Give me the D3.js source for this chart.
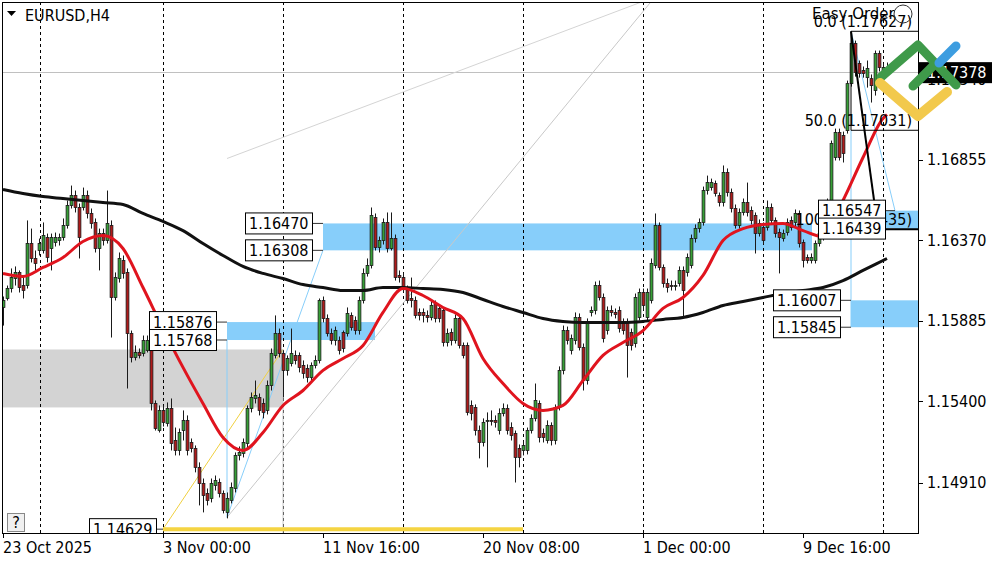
<!DOCTYPE html>
<html>
<head>
<meta charset="utf-8">
<script src="https://cdn.jsdelivr.net/npm/d3@7"></script>
<style>
  body { margin: 0; background: #fff; }
  text { font-family: "DejaVu Sans Condensed", "DejaVu Sans", sans-serif; font-stretch: condensed; font-size: 16px; fill: #000; }
</style>
</head>
<body>
<div id="chart"></div>
<script>
// EURUSD H4, bar index 0 = 23 Oct 2025 08:00
var dateBars = [0, 40, 80, 120, 160, 200];
var dateLabels = ["23 Oct 2025", "3 Nov 00:00", "11 Nov 16:00", "20 Nov 08:00", "1 Dec 00:00", "9 Dec 16:00"];
var priceTicks = [1.17340, 1.16855, 1.16370, 1.15885, 1.15400, 1.14910];
var gridBars = [9.25, 40, 70, 100, 130, 160, 190, 220];
var lastPrice = 1.17378;

// [open, high, low, close]
var ohlc = [
[1.15964,1.16030,1.15855,1.16006],[1.16018,1.16096,1.16006,1.16078],[1.16078,1.16199,1.16054,1.16144],[1.16138,1.16211,1.16096,1.16175],
[1.16175,1.16187,1.16054,1.16084],[1.16096,1.16150,1.16018,1.16066],[1.16096,1.16488,1.16078,1.16349],[1.16349,1.16439,1.16235,1.16259],
[1.16259,1.16307,1.16187,1.16229],[1.16307,1.16379,1.16277,1.16349],[1.16307,1.16476,1.16289,1.16397],[1.16385,1.16409,1.16235,1.16265],
[1.16319,1.16409,1.16187,1.16385],[1.16355,1.16415,1.16331,1.16385],[1.16367,1.16409,1.16337,1.16385],[1.16385,1.16500,1.16367,1.16457],
[1.16457,1.16608,1.16439,1.16578],[1.16578,1.16698,1.16560,1.16638],[1.16638,1.16668,1.16536,1.16566],[1.16566,1.16590,1.16259,1.16385],
[1.16566,1.16686,1.16548,1.16638],[1.16638,1.16668,1.16500,1.16530],[1.16530,1.16560,1.16439,1.16470],[1.16476,1.16500,1.16295,1.16319],
[1.16319,1.16439,1.16187,1.16409],[1.16409,1.16439,1.16337,1.16367],[1.16367,1.16668,1.16349,1.16470],[1.16457,1.16488,1.15783,1.16024],
[1.16024,1.16175,1.16006,1.16144],[1.16138,1.16295,1.16114,1.16259],[1.16247,1.16277,1.16138,1.16169],[1.16175,1.16199,1.15476,1.15807],
[1.15807,1.15825,1.15633,1.15663],[1.15663,1.15735,1.15645,1.15693],[1.15693,1.15717,1.15657,1.15675],[1.15687,1.15795,1.15669,1.15765],
[1.15705,1.15795,1.15693,1.15765],[1.15765,1.15777,1.15344,1.15386],[1.15386,1.15404,1.15223,1.15235],[1.15223,1.15374,1.15211,1.15344],
[1.15344,1.15374,1.15247,1.15272],[1.15266,1.15392,1.15247,1.15356],[1.15356,1.15416,1.15103,1.15145],[1.15163,1.15241,1.15073,1.15103],
[1.15103,1.15235,1.15073,1.15211],[1.15223,1.15344,1.15163,1.15284],[1.15284,1.15314,1.15073,1.15103],[1.15151,1.15175,1.15091,1.15115],
[1.15115,1.15133,1.14971,1.15001],[1.15001,1.15031,1.14772,1.14904],[1.14904,1.14934,1.14730,1.14832],[1.14844,1.14874,1.14772,1.14802],
[1.14814,1.14934,1.14790,1.14904],[1.14892,1.14952,1.14862,1.14922],[1.14910,1.14934,1.14820,1.14844],[1.14844,1.14862,1.14724,1.14742],
[1.14730,1.14850,1.14694,1.14814],[1.14802,1.14910,1.14784,1.14880],[1.14874,1.15091,1.14850,1.15073],[1.15073,1.15127,1.15043,1.15091],
[1.15085,1.15175,1.15061,1.15151],[1.15145,1.15374,1.15121,1.15356],[1.15356,1.15452,1.15332,1.15422],[1.15416,1.15524,1.15386,1.15434],
[1.15422,1.15446,1.15314,1.15344],[1.15386,1.15416,1.15296,1.15332],[1.15344,1.15524,1.15320,1.15494],[1.15494,1.15717,1.15464,1.15687],
[1.15675,1.15916,1.15657,1.15807],[1.15807,1.15837,1.15663,1.15687],[1.15687,1.15705,1.15422,1.15585],[1.15585,1.15675,1.15554,1.15657],
[1.15627,1.15837,1.15609,1.15687],[1.15675,1.15705,1.15621,1.15645],[1.15675,1.15693,1.15573,1.15603],[1.15615,1.15645,1.15536,1.15567],
[1.15597,1.15621,1.15512,1.15542],[1.15542,1.15633,1.15524,1.15615],[1.15615,1.15675,1.15597,1.15645],[1.15645,1.16018,1.15627,1.16006],
[1.16006,1.16030,1.15874,1.15898],[1.15898,1.15922,1.15789,1.15807],[1.15807,1.15837,1.15741,1.15765],[1.15765,1.15849,1.15735,1.15825],
[1.15765,1.15789,1.15681,1.15705],[1.15813,1.15825,1.15693,1.15717],[1.15807,1.15964,1.15789,1.15928],[1.15916,1.15934,1.15825,1.15843],
[1.15886,1.15910,1.15801,1.15825],[1.15825,1.16030,1.15801,1.16006],[1.16006,1.16199,1.15988,1.16169],[1.16169,1.16259,1.16150,1.16217],
[1.16217,1.16566,1.16199,1.16518],[1.16506,1.16530,1.16307,1.16325],[1.16325,1.16391,1.16295,1.16367],[1.16367,1.16500,1.16343,1.16476],
[1.16476,1.16536,1.16295,1.16319],[1.16319,1.16536,1.16307,1.16379],[1.16379,1.16403,1.16126,1.16144],[1.16156,1.16187,1.16114,1.16144],
[1.16144,1.16175,1.16054,1.16078],[1.16066,1.16096,1.15988,1.16006],[1.16018,1.16144,1.15964,1.16006],[1.16006,1.16030,1.15898,1.15916],
[1.15934,1.15958,1.15886,1.15916],[1.15934,1.15958,1.15874,1.15916],[1.15916,1.15946,1.15874,1.15904],[1.15904,1.16006,1.15886,1.15976],
[1.15988,1.16006,1.15874,1.15898],[1.15958,1.15982,1.15874,1.15898],[1.15946,1.15964,1.15729,1.15753],[1.15753,1.15837,1.15729,1.15807],
[1.15813,1.15837,1.15735,1.15765],[1.15765,1.15922,1.15747,1.15898],[1.15898,1.15916,1.15717,1.15735],[1.15735,1.15753,1.15657,1.15675],
[1.15735,1.15753,1.15314,1.15332],[1.15374,1.15404,1.15284,1.15326],[1.15362,1.15380,1.15193,1.15223],[1.15223,1.15253,1.15055,1.15151],
[1.15151,1.15296,1.15127,1.15272],[1.15278,1.15332,1.15001,1.15284],[1.15284,1.15344,1.15253,1.15278],[1.15284,1.15314,1.15241,1.15272],
[1.15223,1.15356,1.15199,1.15326],[1.15326,1.15386,1.15308,1.15356],[1.15356,1.15380,1.15199,1.15223],[1.15241,1.15272,1.15163,1.15193],
[1.15205,1.15223,1.14910,1.15061],[1.15115,1.15139,1.15001,1.15061],[1.15103,1.15163,1.15073,1.15133],[1.15103,1.15241,1.15079,1.15223],
[1.15223,1.15320,1.15205,1.15296],[1.15296,1.15506,1.15278,1.15404],[1.15386,1.15404,1.15151,1.15181],[1.15205,1.15235,1.15151,1.15181],
[1.15163,1.15284,1.15145,1.15253],[1.15253,1.15272,1.15133,1.15163],[1.15163,1.15380,1.15139,1.15362],[1.15362,1.15609,1.15344,1.15585],
[1.15585,1.15855,1.15561,1.15825],[1.15825,1.15849,1.15741,1.15765],[1.15705,1.15801,1.15681,1.15777],[1.15765,1.15934,1.15741,1.15904],
[1.15904,1.15928,1.15705,1.15723],[1.15723,1.15747,1.15464,1.15524],[1.15524,1.15898,1.15500,1.15874],[1.15934,1.15970,1.15910,1.15946],
[1.15946,1.16120,1.15922,1.16096],[1.16096,1.16126,1.16006,1.16024],[1.16024,1.16048,1.15753,1.15777],[1.15825,1.15970,1.15801,1.15946],
[1.15946,1.15976,1.15910,1.15934],[1.15934,1.15958,1.15898,1.15922],[1.15946,1.15970,1.15813,1.15837],[1.15874,1.15898,1.15801,1.15825],
[1.15874,1.15898,1.15542,1.15735],[1.15813,1.15837,1.15705,1.15735],[1.15747,1.16048,1.15723,1.16024],[1.15904,1.16078,1.15886,1.16054],
[1.16054,1.16078,1.15946,1.15976],[1.15904,1.16078,1.15886,1.16054],[1.16006,1.16259,1.15988,1.16229],[1.16217,1.16530,1.16199,1.16457],
[1.16457,1.16476,1.16187,1.16205],[1.16205,1.16223,1.16084,1.16108],[1.16108,1.16138,1.16054,1.16084],[1.16096,1.16126,1.16066,1.16090],
[1.16090,1.16126,1.16066,1.16096],[1.16108,1.16211,1.16090,1.16187],[1.16187,1.16211,1.15904,1.16066],[1.16175,1.16289,1.16150,1.16265],
[1.16217,1.16403,1.16199,1.16379],[1.16379,1.16464,1.16355,1.16439],[1.16439,1.16500,1.16415,1.16476],[1.16476,1.16692,1.16457,1.16668],
[1.16668,1.16758,1.16644,1.16716],[1.16686,1.16740,1.16668,1.16716],[1.16710,1.16728,1.16632,1.16650],[1.16638,1.16656,1.16572,1.16596],
[1.16596,1.16819,1.16572,1.16777],[1.16777,1.16801,1.16632,1.16656],[1.16656,1.16680,1.16536,1.16560],[1.16560,1.16584,1.16439,1.16457],
[1.16457,1.16560,1.16439,1.16536],[1.16536,1.16620,1.16518,1.16596],[1.16596,1.16716,1.16512,1.16536],[1.16548,1.16572,1.16464,1.16488],
[1.16518,1.16536,1.16289,1.16409],[1.16409,1.16494,1.16391,1.16470],[1.16445,1.16476,1.16343,1.16367],[1.16445,1.16608,1.16427,1.16566],
[1.16566,1.16590,1.16464,1.16488],[1.16488,1.16506,1.16385,1.16409],[1.16415,1.16439,1.16169,1.16385],[1.16379,1.16433,1.16361,1.16409],
[1.16415,1.16500,1.16397,1.16476],[1.16488,1.16512,1.16427,1.16445],[1.16476,1.16554,1.16451,1.16530],[1.16530,1.16548,1.16325,1.16349],
[1.16355,1.16373,1.16205,1.16247],[1.16265,1.16283,1.16229,1.16247],[1.16247,1.16289,1.16229,1.16265],[1.16247,1.16367,1.16229,1.16349],
[1.16349,1.16433,1.16331,1.16409],[1.16385,1.16439,1.16367,1.16415],[1.16409,1.16620,1.16391,1.16596],[1.16596,1.16969,1.16578,1.16951],
[1.16867,1.17041,1.16849,1.17017],[1.17017,1.17041,1.16849,1.16867],[1.16999,1.17023,1.16837,1.16891],[1.17029,1.17330,1.17011,1.17312],
[1.17312,1.17627,1.17294,1.17553],[1.17553,1.17571,1.17354,1.17379],[1.17433,1.17451,1.17348,1.17373],[1.17391,1.17415,1.17348,1.17373],
[1.17348,1.17451,1.17288,1.17403],[1.17342,1.17367,1.17198,1.17300],[1.17270,1.17511,1.17240,1.17493],[1.17493,1.17511,1.17385,1.17409],
[1.17342,1.17433,1.17318,1.17409],[1.17409,1.17439,1.17354,1.17378]
];

// moving averages at these bars
var maBars = [0,5,10,15,20,25,30,35,40,45,50,55,60,65,70,75,80,85,90,95,100,105,110,115,120,125,130,135,140,145,150,155,160,165,170,175,180,185,190,195,200,205,210,215,220,221];
var maFast = [1.16169,1.16151,1.16205,1.16265,1.16361,1.16397,1.16319,1.16084,1.15837,1.15603,1.15386,1.15181,1.15103,1.15211,1.15374,1.15464,
  1.15585,1.15657,1.15735,1.15934,1.16078,1.16036,1.15964,1.15898,1.15657,1.15506,1.15386,1.15344,1.15374,1.15524,1.15675,1.15753,
  1.15825,1.15958,1.16024,1.16157,1.16367,1.16439,1.16464,1.16470,1.16427,1.16391,1.16608,1.16867,1.17102,1.17126];
var maSlow = [1.16674,1.16650,1.16632,1.16620,1.16608,1.16596,1.16584,1.16530,1.16482,1.16427,1.16349,1.16277,1.16211,1.16169,1.16138,1.16102,
  1.16084,1.16066,1.16066,1.16084,1.16084,1.16078,1.16072,1.16054,1.16012,1.15970,1.15934,1.15898,1.15880,1.15874,1.15874,1.15874,
  1.15880,1.15892,1.15904,1.15934,1.15976,1.16000,1.16024,1.16048,1.16066,1.16084,1.16126,1.16187,1.16247,1.16259];

// zones: [fromBar, toBar, high, low]
var blueZones = [[80, 202.25, 1.16470, 1.16308], [56, 93, 1.15876, 1.15768], [212, 240, 1.16007, 1.15845], [220.5, 240, 1.16547, 1.16435]];
var greyZone = [-5, 70, 1.15711, 1.15362];
// price tags: [price, bar it points to, gap]
var priceTags = [[1.16470, 80, 10], [1.16308, 80, 10], [1.15876, 56, 10], [1.15768, 56, 10],
                 [1.16007, 212, 10], [1.15845, 212, 10], [1.16547, 223, 9], [1.16439, 223, 9], [1.14629, 40, 6]];
var fibLevels = [0, 50, 100];
var fibPrices = [1.17627, 1.17031, 1.16435];

var W = 1000, H = 562;
var L = 2, R = 918, T = 2, B = 533;

var svg = d3.select("#chart").append("svg").attr("width", W).attr("height", H);
svg.append("rect").attr("width", W).attr("height", H).attr("fill", "#fff");

var x = d3.scaleLinear().domain([0, 40]).range([3, 163]);
var y = d3.scaleLinear().domain([1.14910, 1.16855]).range([482.5, 159.5]);

svg.append("clipPath").attr("id", "plot")
  .append("rect").attr("x", L).attr("y", T).attr("width", R - L).attr("height", B - T);

var g = svg.append("g").attr("clip-path", "url(#plot)");

// background objects
g.append("rect")
  .attr("x", x(greyZone[0])).attr("width", x(greyZone[1]) - x(greyZone[0]))
  .attr("y", y(greyZone[2])).attr("height", y(greyZone[3]) - y(greyZone[2]))
  .attr("fill", "#d3d3d3");

g.selectAll(".zone").data(blueZones).enter().append("rect")
  .attr("x", d => x(d[0])).attr("width", d => x(d[1]) - x(d[0]))
  .attr("y", d => y(d[2])).attr("height", d => y(d[3]) - y(d[2]))
  .attr("fill", "#87cefa");

// grid
g.selectAll(".grid").data(gridBars).enter().append("line")
  .attr("x1", d => Math.round(x(d)) + 0.5).attr("x2", d => Math.round(x(d)) + 0.5)
  .attr("y1", T).attr("y2", B)
  .attr("stroke", "#000").attr("stroke-width", 1).attr("stroke-dasharray", "3,3");

// bid line
g.append("line").attr("x1", L).attr("x2", R)
  .attr("y1", Math.round(y(lastPrice)) - 0.5).attr("y2", Math.round(y(lastPrice)) - 0.5)
  .attr("stroke", "#c0c0c0");

// thin drawing lines
function seg(b1, p1, b2, p2, col, w) {
  g.append("line").attr("x1", x(b1)).attr("y1", y(p1)).attr("x2", x(b2)).attr("y2", y(p2))
    .attr("stroke", col).attr("stroke-width", w || 1);
}
seg(56, 1.14700, 162.25, 1.17812, "#c8c8c8");
seg(56, 1.16861, 159.25, 1.17800, "#d4d4d4");
seg(40, 1.14629, 70, 1.15711, "#f0d040");
seg(56, 1.14700, 80, 1.16308, "#87cefa");
seg(56, 1.14700, 56, 1.15768, "#87cefa");
seg(70, 1.14500, 70, 1.15711, "#c8c8c8");
seg(212, 1.17031, 212, 1.15845, "#87cefa");
seg(212, 1.17627, 223, 1.16547, "#87cefa");

// candles
var candle = g.selectAll(".candle").data(ohlc).enter().append("g");
candle.append("line")
  .attr("x1", (d, i) => x(i) + 0.5).attr("x2", (d, i) => x(i) + 0.5)
  .attr("y1", d => y(d[1])).attr("y2", d => y(d[2]))
  .attr("stroke", "#1a1a1a").attr("stroke-width", 1);
candle.append("rect")
  .attr("x", (d, i) => x(i) - 0.9).attr("width", 2.8)
  .attr("y", d => y(Math.max(d[0], d[3])))
  .attr("height", d => Math.max(1, Math.abs(y(d[0]) - y(d[3]))))
  .attr("fill", d => d[3] >= d[0] ? "#36a036" : "#b01a1a")
  .attr("stroke", "#1a1a1a").attr("stroke-width", 0.8);

// moving averages
var maLine = d3.line().x(d => x(d[0])).y(d => y(d[1])).curve(d3.curveMonotoneX);
g.append("path").datum(maBars.map((b, i) => [b, maSlow[i]]))
  .attr("d", maLine).attr("fill", "none").attr("stroke", "#111").attr("stroke-width", 3);
g.append("path").datum(maBars.map((b, i) => [b, maFast[i]]))
  .attr("d", maLine).attr("fill", "none").attr("stroke", "#e0141e").attr("stroke-width", 3);

// yellow level
seg(40, 1.14629, 130, 1.14629, "#f5d442", 4);

// fibonacci
g.append("line").attr("x1", x(212)).attr("x2", R).attr("y1", y(fibPrices[0])).attr("y2", y(fibPrices[0])).attr("stroke", "#000");
g.append("line").attr("x1", x(212)).attr("x2", R).attr("y1", y(fibPrices[1])).attr("y2", y(fibPrices[1])).attr("stroke", "#000");
g.append("line").attr("x1", x(220.5)).attr("x2", R).attr("y1", y(fibPrices[2])).attr("y2", y(fibPrices[2])).attr("stroke", "#000").attr("stroke-width", 2);
g.append("line").attr("x1", x(212)).attr("x2", x(212)).attr("y1", y(fibPrices[0])).attr("y2", y(fibPrices[1])).attr("stroke", "#000");
seg(212, fibPrices[0], 218.75, fibPrices[2], "#000", 2);

g.selectAll(".fibtxt").data(fibLevels).enter().append("text")
  .attr("x", 912).attr("y", (d, i) => y(fibPrices[i]) - 4)
  .attr("text-anchor", "end")
  .text((d, i) => d.toFixed(1) + " (" + fibPrices[i].toFixed(5) + ")");

// price tags
var tag = g.selectAll(".tag").data(priceTags).enter().append("g")
  .attr("transform", d => "translate(" + (x(d[1]) - d[2]) + "," + y(d[0]) + ")");
tag.append("line").attr("x1", 0).attr("x2", d => d[2]).attr("stroke", "#333");
tag.append("rect").attr("x", -67.5).attr("y", -10.5).attr("width", 67).attr("height", 21)
  .attr("fill", "#fff").attr("stroke", "#000");
tag.append("text").attr("x", -64).attr("dy", "0.36em").text(d => d[0].toFixed(5));

// easy order caption
g.append("text").attr("x", 812).attr("y", 19)
  .style("font-size", "15px").style("font-stretch", "normal").style("font-family", "'DejaVu Sans', sans-serif")
  .text("Easy Order");
g.append("circle").attr("cx", 903).attr("cy", 14).attr("r", 9).attr("fill", "none").attr("stroke", "#333");

// frame
svg.append("rect").attr("x", L + 0.5).attr("y", T + 0.5).attr("width", R - L).attr("height", B - T)
  .attr("fill", "none").attr("stroke", "#000");

// price axis
svg.selectAll(".ptick").data(priceTicks).enter().append("line")
  .attr("x1", R).attr("x2", R + 5).attr("y1", d => Math.round(y(d)) + 0.5).attr("y2", d => Math.round(y(d)) + 0.5)
  .attr("stroke", "#000");
svg.selectAll(".plab").data(priceTicks).enter().append("text")
  .attr("x", 927).attr("y", d => y(d)).attr("dy", "0.36em")
  .text(d => d.toFixed(5));

svg.append("rect").attr("x", R + 1).attr("y", y(lastPrice) - 10.5).attr("width", 73).attr("height", 21).attr("fill", "#000");
svg.append("text").attr("x", 927).attr("y", y(lastPrice)).attr("dy", "0.36em").style("fill", "#fff").text(lastPrice.toFixed(5));

// time axis
svg.selectAll(".ttick").data(dateBars).enter().append("line")
  .attr("x1", d => Math.round(x(d)) + 0.5).attr("x2", d => Math.round(x(d)) + 0.5)
  .attr("y1", B).attr("y2", B + 5).attr("stroke", "#000");
svg.selectAll(".tlab").data(dateBars).enter().append("text")
  .attr("x", d => x(d)).attr("y", 553)
  .text((d, i) => dateLabels[i]);

// symbol caption
svg.append("path").attr("d", "M7,11 L16,11 L11.5,16 Z").attr("fill", "#000");
svg.append("text").attr("x", 25).attr("y", 21).text("EURUSD,H4");

// help button
svg.append("rect").attr("x", 7.5).attr("y", 513.5).attr("width", 17).attr("height", 18)
  .attr("fill", "#f0f0f0").attr("stroke", "#888");
svg.append("text").attr("x", 16).attr("y", 528).attr("text-anchor", "middle").text("?");

// broker logo
var logo = svg.append("g").attr("fill", "none").attr("stroke-linecap", "round").attr("stroke-linejoin", "round");
logo.append("path").attr("d", "M881,77 L918,45 L956,85").attr("stroke", "#3f9a4a").attr("stroke-width", 9);
logo.append("path").attr("d", "M913,86 L933,66").attr("stroke", "#3f9a4a").attr("stroke-width", 9);
logo.append("path").attr("d", "M939,63 L956,46").attr("stroke", "#3d9de0").attr("stroke-width", 9);
logo.append("path").attr("d", "M880,83 L918,116 L947,92").attr("stroke", "#f2c94c").attr("stroke-width", 10);
</script>
</body>
</html>
